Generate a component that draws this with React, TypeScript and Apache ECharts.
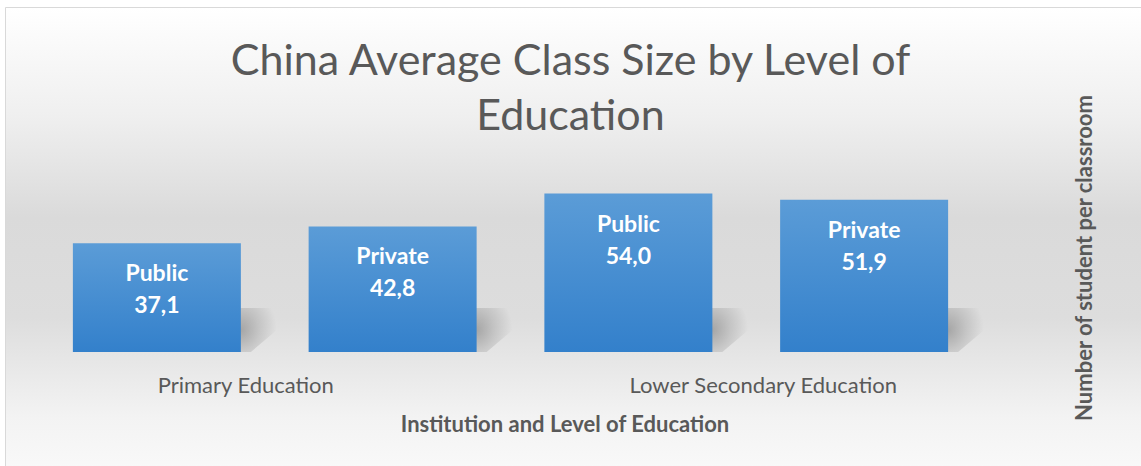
import React, { useEffect, useRef } from 'react';
import * as echarts from 'echarts';

const titleText = 'China Average Class Size by Level of\nEducation';
const institutions = ['Public', 'Private', 'Public', 'Private'];
const classSizes = [37.1, 42.8, 54.0, 51.9];
const levels = ['Primary Education', 'Lower Secondary Education'];
const xAxisTitle = 'Institution and Level of Education';
const yAxisTitle = 'Number of student per classroom';

export default function App() {
  const ref = useRef<HTMLDivElement>(null);
  useEffect(() => {
    const chart = echarts.init(ref.current!, null, { renderer: 'svg' });
    const font = 'Lato, "Open Sans", sans-serif';
    const gray = '#595959';
    chart.setOption({
      animation: false,
      title: {
        text: titleText,
        left: 'center',
        top: 26,
        textStyle: { fontFamily: font, fontSize: 43, fontWeight: 'normal', color: gray, lineHeight: 55 },
      },
      grid: { left: 39, right: 159, top: 176, bottom: 114, containLabel: false },
      xAxis: [
        {
          type: 'category',
          data: institutions,
          axisLine: { show: false },
          axisTick: { show: false },
          axisLabel: { show: false },
        },
        {
          type: 'category',
          data: levels,
          position: 'bottom',
          axisLine: { show: false },
          axisTick: { show: false },
          axisLabel: {
            margin: 21,
            formatter: (v: string, i: number) => (i === 0 ? `{a|${v}}` : `{b|${v}}`),
            rich: {
              a: { fontFamily: font, fontSize: 22, color: gray, padding: [0, 58, 0, 0] },
              b: { fontFamily: font, fontSize: 22, color: gray, padding: [0, 0, 0, 34] },
            },
          },
        },
      ],
      yAxis: { type: 'value', min: 0, max: 60, show: false },
      graphic: [
        {
          type: 'rect',
          z: -10,
          shape: { x: 5.5, y: 7.5, width: 1200, height: 500 },
          style: {
            stroke: '#d9d9d9',
            lineWidth: 1,
            fill: new echarts.graphic.LinearGradient(0, 0, 0, 1, [
              { offset: 0, color: '#ffffff' },
              { offset: 0.22, color: '#efefef' },
              { offset: 0.42, color: '#dadada' },
              { offset: 0.62, color: '#dddddd' },
              { offset: 0.82, color: '#f3f3f3' },
              { offset: 1, color: '#fdfdfd' },
            ]),
          },
        },
        {
          type: 'text',
          x: 565,
          y: 423,
          style: {
            text: xAxisTitle,
            fontFamily: font,
            fontSize: 22,
            fontWeight: 'bold',
            fill: gray,
            align: 'center',
            verticalAlign: 'middle',
          },
        },
        {
          type: 'text',
          x: 1083,
          y: 258,
          rotation: Math.PI / 2,
          style: {
            text: yAxisTitle,
            fontFamily: font,
            fontSize: 22,
            fontWeight: 'bold',
            fill: gray,
            align: 'center',
            verticalAlign: 'middle',
          },
        },
      ],
      series: [
        {
          type: 'custom',
          z: 1,
          xAxisIndex: 0,
          yAxisIndex: 0,
          data: classSizes.map((v, i) => [i, v]),
          renderItem: (params: any, api: any) => {
            const p = api.coord([api.value(0), 0]);
            const x1 = p[0] + 84;
            const y0 = p[1];
            return {
              type: 'polygon',
              shape: {
                points: [
                  [x1 - 2, y0 - 44],
                  [x1 + 36, y0 - 44],
                  [x1 + 36, y0 - 22],
                  [x1 + 10, y0],
                  [x1 - 2, y0],
                ],
              },
              style: {
                fill: new echarts.graphic.RadialGradient(0.05, 0.5, 0.95, [
                  { offset: 0, color: 'rgba(0,0,0,0.26)' },
                  { offset: 0.5, color: 'rgba(0,0,0,0.12)' },
                  { offset: 1, color: 'rgba(0,0,0,0)' },
                ]),
              },
            };
          },
        },
        {
          type: 'bar',
          z: 2,
          xAxisIndex: 0,
          yAxisIndex: 0,
          data: classSizes,
          barWidth: 168,
          itemStyle: {
            color: new echarts.graphic.LinearGradient(0, 0, 0, 1, [
              { offset: 0, color: '#5b9cd7' },
              { offset: 1, color: '#3380cb' },
            ]),
          },
          label: {
            show: true,
            position: 'insideTop',
            distance: 13,
            formatter: (p: any) =>
              `${institutions[p.dataIndex]}\n${Number(p.value).toFixed(1).replace('.', ',')}`,
            color: '#ffffff',
            fontFamily: font,
            fontWeight: 'bold',
            fontSize: 23,
            lineHeight: 32,
          },
        },
      ],
    });
    return () => chart.dispose();
  }, []);
  return (
    <div
      ref={ref}
      style={{ position: 'fixed', left: 0, top: 0, width: 1141, height: 466, background: '#ffffff' }}
    />
  );
}
